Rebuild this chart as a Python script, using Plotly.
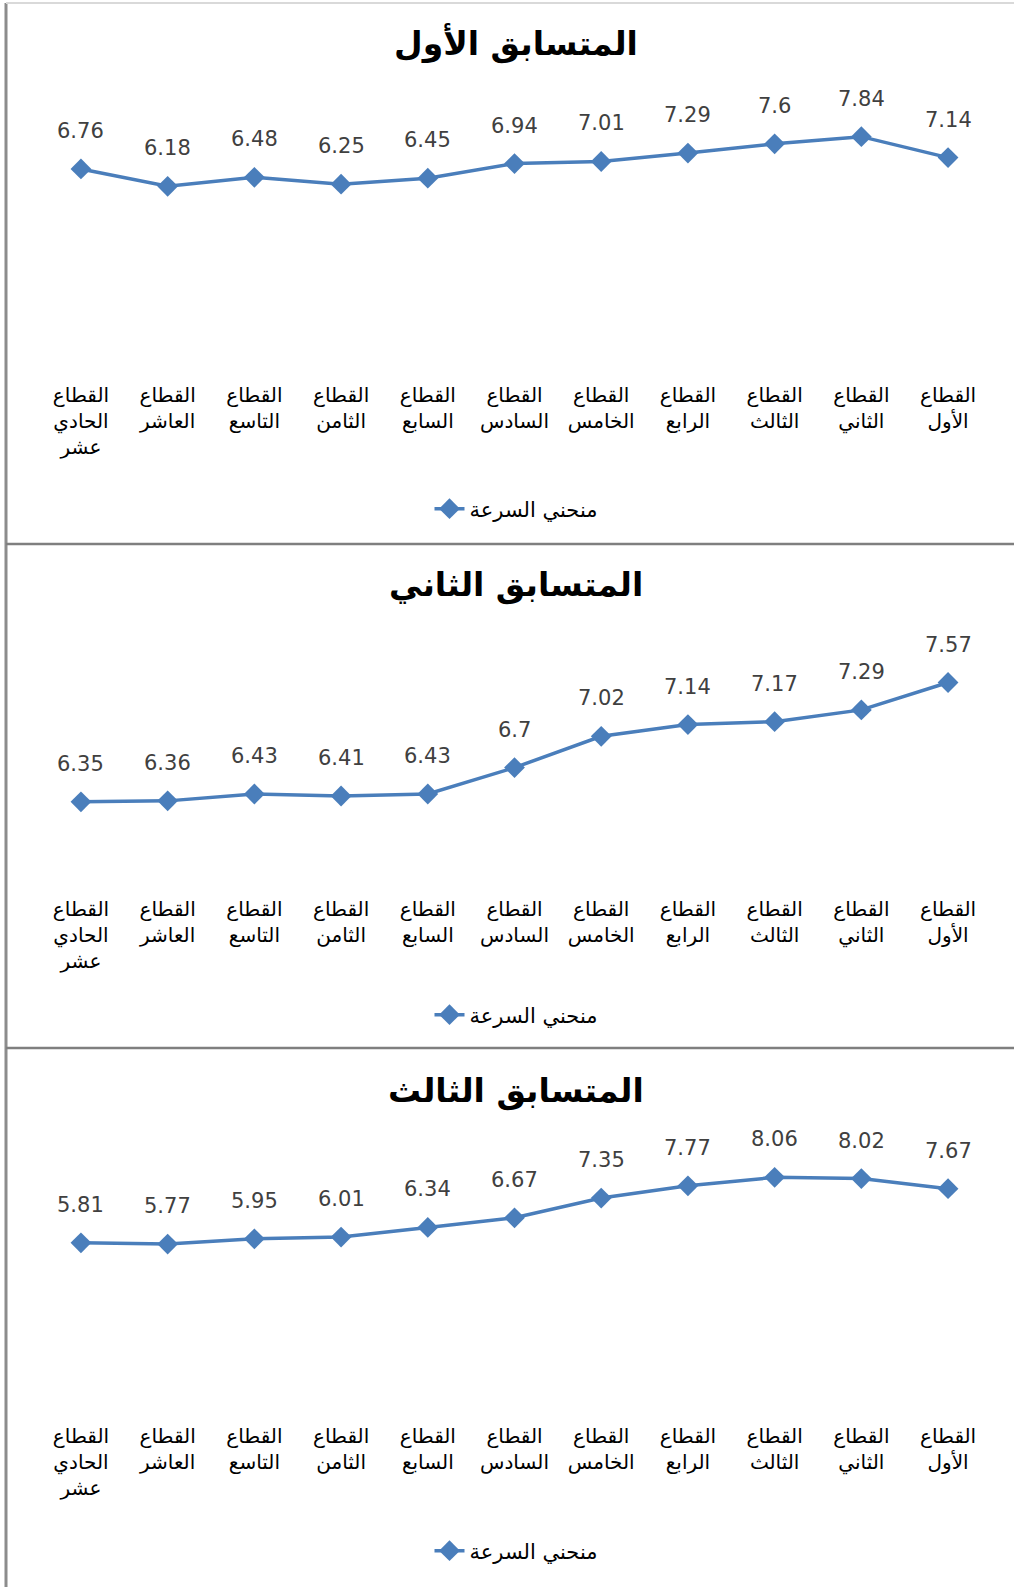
import plotly.graph_objects as go

# ---- data ----
sectors = [
    "القطاع<br>الأول", "القطاع<br>الثاني", "القطاع<br>الثالث", "القطاع<br>الرابع",
    "القطاع<br>الخامس", "القطاع<br>السادس", "القطاع<br>السابع", "القطاع<br>الثامن",
    "القطاع<br>التاسع", "القطاع<br>العاشر", "القطاع<br>الحادي<br>عشر",
]
runner1 = [7.14, 7.84, 7.6, 7.29, 7.01, 6.94, 6.45, 6.25, 6.48, 6.18, 6.76]
runner2 = [7.57, 7.29, 7.17, 7.14, 7.02, 6.7, 6.43, 6.41, 6.43, 6.36, 6.35]
runner3 = [7.67, 8.02, 8.06, 7.77, 7.35, 6.67, 6.34, 6.01, 5.95, 5.77, 5.81]
titles = ["المتسابق الأول", "المتسابق الثاني", "المتسابق الثالث"]
series_name = "منحني السرعة"

W, H = 1014, 1587
LINE = "#4A7EBB"
AR_FONT = "DejaVu Sans"

def py(px):  # pixel from top -> paper fraction
    return 1 - px / H

panels = [
    dict(vals=runner1, yr=[0, 9], top=102, bot=371, title_y=43, leg_y=509),
    dict(vals=runner2, yr=[5.5, 7.8], top=660, bot=885, title_y=585, leg_y=1015),
    dict(vals=runner3, yr=[0, 9], top=1150, bot=1412, title_y=1091, leg_y=1551),
]

fig = go.Figure()
annotations = []
layout_axes = {}
for i, p in enumerate(panels, start=1):
    sfx = "" if i == 1 else str(i)
    leg = "legend" if i == 1 else f"legend{i}"
    fig.add_trace(go.Scatter(
        x=sectors, y=p["vals"], mode="lines+markers", name=series_name,
        line=dict(color=LINE, width=3.5),
        marker=dict(symbol="diamond", size=16, color=LINE),
        xaxis=f"x{sfx}", yaxis=f"y{sfx}", legend=leg, showlegend=True,
        hoverinfo="skip",
    ))
    layout_axes[f"xaxis{sfx}"] = dict(
        domain=[37.6 / W, 991.4 / W], anchor=f"y{sfx}",
        type="category", categoryorder="array", categoryarray=sectors,
        range=[10.5, -0.5], showgrid=False, showline=False, zeroline=False,
        ticks="", ticklabelstandoff=10,
        tickfont=dict(family=AR_FONT, size=20, color="#000000"),
    )
    layout_axes[f"yaxis{sfx}"] = dict(
        domain=[py(p["bot"]), py(p["top"])], anchor=f"x{sfx}",
        range=p["yr"], visible=False, fixedrange=True,
    )
    for xv, yv in zip(sectors, p["vals"]):
        annotations.append(dict(
            x=xv, y=yv, xref=f"x{sfx}", yref=f"y{sfx}", text=f"{yv:g}",
            showarrow=False, yshift=38, yanchor="middle",
            font=dict(family="DejaVu Sans", size=21, color="#404040"),
        ))
    annotations.append(dict(
        x=516 / W, y=py(p["title_y"]), xref="paper", yref="paper",
        text=f"<b>{titles[i-1]}</b>", showarrow=False,
        xanchor="center", yanchor="middle",
        font=dict(family=AR_FONT, size=33, color="#000000"),
    ))
    layout_axes[leg] = dict(
        x=516 / W, xanchor="center", y=py(p["leg_y"]), yanchor="middle",
        orientation="h", bgcolor="rgba(0,0,0,0)",
        font=dict(family=AR_FONT, size=21, color="#000000"),
        itemwidth=30,
    )

shapes = [
    dict(type="line", xref="paper", yref="paper", x0=6 / W, x1=6 / W, y0=0, y1=py(3),
         line=dict(color="#8C8C8C", width=3)),
    dict(type="line", xref="paper", yref="paper", x0=6 / W, x1=1, y0=py(3), y1=py(3),
         line=dict(color="#D9D9D9", width=2)),
    dict(type="line", xref="paper", yref="paper", x0=6 / W, x1=1, y0=py(544), y1=py(544),
         line=dict(color="#7F7F7F", width=2.5)),
    dict(type="line", xref="paper", yref="paper", x0=6 / W, x1=1, y0=py(1048), y1=py(1048),
         line=dict(color="#7F7F7F", width=2.5)),
]

fig.update_layout(
    width=W, height=H, margin=dict(l=0, r=0, t=0, b=0),
    paper_bgcolor="white", plot_bgcolor="white",
    showlegend=True, annotations=annotations, shapes=shapes,
    **layout_axes,
)

fig.write_html(
    "out.html",
    config={"displayModeBar": False, "staticPlot": True},
    post_script="document.body.style.margin='0';document.body.style.overflow='hidden';",
)
